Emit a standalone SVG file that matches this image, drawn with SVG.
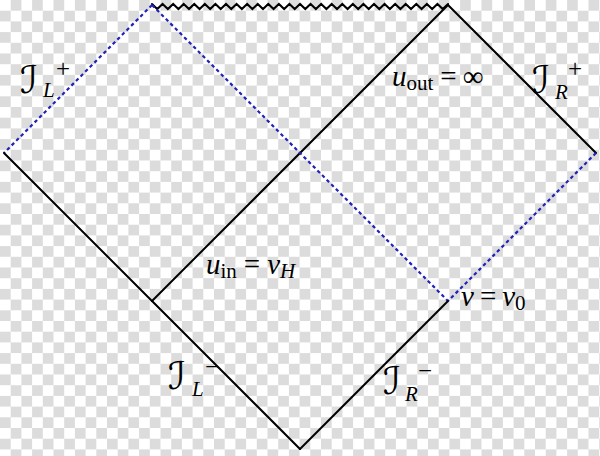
<svg xmlns="http://www.w3.org/2000/svg" width="600" height="456" viewBox="0 0 600 456">
<defs>
<pattern id="checker" patternUnits="userSpaceOnUse" width="21.4" height="21.4">
<rect width="21.4" height="21.4" fill="#ffffff"/>
<rect x="10.7" width="10.7" height="10.7" fill="#dcdcdc"/>
<rect y="10.7" width="10.7" height="10.7" fill="#dcdcdc"/>
</pattern>
</defs>
<style>
.solid{stroke:#000;stroke-width:2;fill:none;stroke-linecap:round}
.dash{stroke:#2222bb;stroke-width:2.2;fill:none;stroke-dasharray:3.5 3}
.lbl{font-family:"Liberation Serif","Times New Roman",serif;font-size:29px;fill:#000}
.lbl .sub,.lbl.sub{font-size:21px}
.lbl.sup{font-size:25px}
.scr{font-family:"DejaVu Serif","DejaVu Sans",serif;font-size:38px;font-style:italic;fill:#000}
.it{font-style:italic}
</style>
<rect width="600" height="456" fill="url(#checker)"/>
<g id="connectors">
<polyline class="solid" stroke-width="1.6" points="152,4 157.29,9 162.57,4 167.86,9 173.14,4 178.43,9 183.71,4 189,9 194.29,4 199.57,9 204.86,4 210.14,9 215.43,4 220.71,9 226,4 231.29,9 236.57,4 241.86,9 247.14,4 252.43,9 257.71,4 263,9 268.29,4 273.57,9 278.86,4 284.14,9 289.43,4 294.71,9 300,4 305.29,9 310.57,4 315.86,9 321.14,4 326.43,9 331.71,4 337,9 342.29,4 347.57,9 352.86,4 358.14,9 363.43,4 368.71,9 374,4 379.29,9 384.57,4 389.86,9 395.14,4 400.43,9 405.71,4 411,9 416.29,4 421.57,9 426.86,4 432.14,9 437.43,4 442.71,9 448,4"/>
<line id="scri-L-plus" class="dash" x1="152" y1="5" x2="4" y2="153"/>
<line id="scri-L-minus" class="solid" x1="4" y1="153" x2="300" y2="449"/>
<line id="horizon-in" class="solid" x1="448" y1="5" x2="152" y2="301"/>
<line id="scri-R-plus" class="solid" x1="448" y1="5" x2="596" y2="153"/>
<line id="dash-diag" class="dash" x1="152" y1="5" x2="448" y2="301"/>
<line id="dash-right" class="dash" x1="596" y1="153" x2="448" y2="301"/>
<line id="scri-R-minus" class="solid" x1="448" y1="301" x2="300" y2="449"/>
</g>
<g id="labels">
<g id="label-scri-L-plus"><text class="scr" x="20" y="93">ℐ</text><text class="lbl it sub" x="43" y="97">L</text><text class="lbl sup" x="56" y="77">+</text></g>
<g id="label-uout"><text class="lbl" x="392" y="86"><tspan class="it">u</tspan><tspan class="sub" dy="4">out</tspan><tspan dy="-4" dx="7">=</tspan><tspan dx="6">∞</tspan></text></g>
<g id="label-scri-R-plus"><text class="scr" x="532" y="93">ℐ</text><text class="lbl it sub" x="555" y="99">R</text><text class="lbl sup" x="568" y="77">+</text></g>
<g id="label-uin"><text class="lbl" x="206" y="274"><tspan class="it">u</tspan><tspan class="sub" dy="4">in</tspan><tspan dy="-4" dx="7">=</tspan><tspan class="it" dx="7">v</tspan><tspan class="it sub" dy="4">H</tspan></text></g>
<g id="label-v0"><text class="lbl" x="461" y="306"><tspan class="it">v</tspan><tspan dx="6">=</tspan><tspan class="it" dx="6">v</tspan><tspan class="sub" dy="4">0</tspan></text></g>
<g id="label-scri-L-minus"><text class="scr" x="168" y="389">ℐ</text><text class="lbl it sub" x="192" y="396">L</text><text class="lbl sup" x="205" y="375">−</text></g>
<g id="label-scri-R-minus"><text class="scr" x="383" y="394">ℐ</text><text class="lbl it sub" x="405" y="401">R</text><text class="lbl sup" x="418" y="379">−</text></g>
</g>
</svg>
